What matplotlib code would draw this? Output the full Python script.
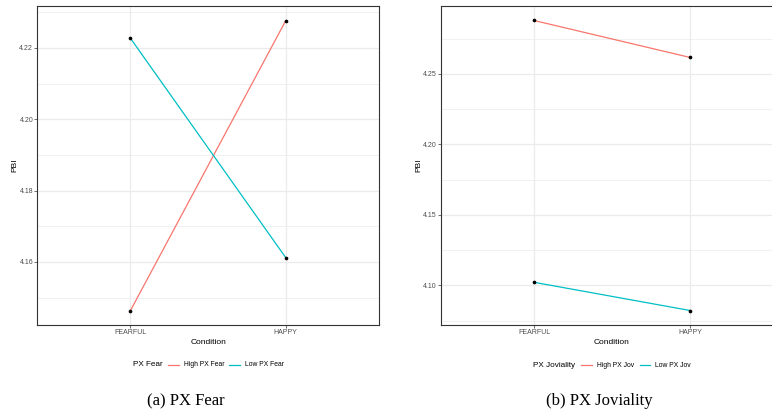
import matplotlib
matplotlib.use("Agg")
import matplotlib.pyplot as plt
from matplotlib.lines import Line2D
import numpy as np

conditions = ["FEARFUL", "HAPPY"]

fear_high = [4.1464, 4.2277]
fear_low = [4.2227, 4.1612]
fear_yticks = [4.16, 4.18, 4.20, 4.22]
fear_labels = ["High PX Fear", "Low PX Fear"]

jov_high = [4.2878, 4.2616]
jov_low = [4.1021, 4.0821]
jov_yticks = [4.10, 4.15, 4.20, 4.25]
jov_labels = ["High PX Jov", "Low PX Jov"]

RED = "#F8766D"
CYAN = "#00BFC4"

plt.rcParams['font.family'] = ['Liberation Sans', 'DejaVu Sans']

fig = plt.figure(figsize=(7.72, 4.12), dpi=100)
W, H = 772, 412

def px_axes(x0, y0, x1, y1):
    return fig.add_axes([x0 / W, 1 - y1 / H, (x1 - x0) / W, (y1 - y0) / H])

def draw_panel(ax, high, low, yticks, fmt):
    x = np.arange(1, len(conditions) + 1)
    allv = np.array(high + low)
    lo, hi = allv.min(), allv.max()
    pad = 0.05 * (hi - lo)
    ax.set_ylim(lo - pad, hi + pad)
    ax.set_xlim(0.4, len(conditions) + 0.6)
    ax.plot(x, high, color=RED, lw=0.9, zorder=3)
    ax.plot(x, low, color=CYAN, lw=0.9, zorder=3)
    ax.scatter(x, high, s=7, color="black", zorder=4, linewidths=0)
    ax.scatter(x, low, s=7, color="black", zorder=4, linewidths=0)
    ax.set_xticks(x)
    ax.set_xticklabels(conditions)
    ax.set_yticks(yticks)
    ax.set_yticklabels([fmt % v for v in yticks])
    step = yticks[1] - yticks[0]
    minor = np.arange(yticks[0] - step / 2, hi + pad + step, step)
    minor = [m for m in minor if lo - pad < m < hi + pad]
    ax.set_yticks(minor, minor=True)
    ax.tick_params(which="minor", length=0)
    ax.tick_params(which="major", length=2, width=0.5, color="#333333",
                   labelsize=5, labelcolor="#4D4D4D", pad=1)
    ax.grid(which="major", color="#EBEBEB", lw=0.9, zorder=0)
    ax.grid(which="minor", axis="y", color="#EBEBEB", lw=0.5, zorder=0)
    ax.set_axisbelow(True)
    for s in ax.spines.values():
        s.set_color("#333333")
        s.set_linewidth(0.8)
    ax.set_xlabel("Condition", fontsize=6, labelpad=2)
    ax.set_ylabel("PBI", fontsize=6, labelpad=0.5)

ax1 = px_axes(37.3, 6, 379, 325)
draw_panel(ax1, fear_high, fear_low, fear_yticks, "%.2f")
ax2 = px_axes(440.5, 6, 783.6, 325)
draw_panel(ax2, jov_high, jov_low, jov_yticks, "%.2f")

def legend(title, labels, xs, y):
    # xs: title start, key1 start, label1 start, key2 start, label2 start
    yf = 1 - y / H
    yb = 1 - (y + 1.8) / H
    fig.text(xs[0] / W, yb, title, fontsize=5.9, va="baseline", ha="left")
    for i, (lab, col) in enumerate(zip(labels, [RED, CYAN])):
        kx = xs[1 + 2 * i]
        fig.add_artist(Line2D([kx / W, (kx + 10.5) / W], [yf, yf], color=col, lw=0.9,
                              transform=fig.transFigure))
        fig.text(xs[2 + 2 * i] / W, yb, lab, fontsize=4.9, va="baseline", ha="left")

legend("PX Fear", fear_labels, [133, 168, 184, 229, 245], 364.5)
legend("PX Joviality", jov_labels, [533.3, 581, 596.7, 639.5, 654.7], 365)

fig.text(186 / W, 1 - 401 / H, "(a) PX Fear", fontsize=12, ha="center", va="center",
         family=["Liberation Serif", "DejaVu Serif"])
fig.text(599 / W, 1 - 401 / H, "(b) PX Joviality", fontsize=12, ha="center", va="center",
         family=["Liberation Serif", "DejaVu Serif"])

fig.savefig("out.png", dpi=100)
